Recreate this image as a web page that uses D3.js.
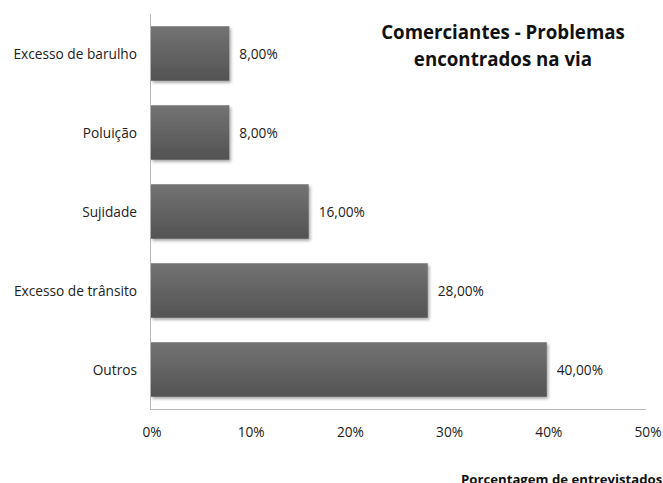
<!DOCTYPE html>
<html><head><meta charset="utf-8">
<script src="https://cdn.jsdelivr.net/npm/d3@7"></script>
<style>body{margin:0;background:#fff}svg{display:block}text{font-family:"Open Sans",Lato,sans-serif}</style>
</head><body><svg id="c" width="663" height="483"></svg>
<script>
const categories = ["Excesso de barulho","Poluição","Sujidade","Excesso de trânsito","Outros"];
const values = [8, 8, 16, 28, 40];
const valueLabels = ["8,00%","8,00%","16,00%","28,00%","40,00%"];
const xTicks = [0,10,20,30,40,50];
const titleLines = ["Comerciantes - Problemas","encontrados na via"];
const xTitle = "Porcentagem de entrevistados";

const svg = d3.select("#c");
const x = d3.scaleLinear().domain([0,50]).range([150,646]);
const y = d3.scaleBand().domain(categories).range([14,409]).paddingInner(0.31).paddingOuter(0.155);

const defs = svg.append("defs");
const g = defs.append("linearGradient").attr("id","bg").attr("x1",0).attr("x2",0).attr("y1",0).attr("y2",1);
g.append("stop").attr("offset","0%").attr("stop-color","#737373");
g.append("stop").attr("offset","100%").attr("stop-color","#535353");
const f = defs.append("filter").attr("id","sh").attr("x","-10%").attr("y","-20%").attr("width","130%").attr("height","150%");
f.append("feDropShadow").attr("dx",1.5).attr("dy",2).attr("stdDeviation",1.8).attr("flood-color","#000").attr("flood-opacity",0.35);

svg.append("line").attr("x1",150.5).attr("x2",150.5).attr("y1",14).attr("y2",409).attr("stroke","#b8b8b8");
svg.append("line").attr("x1",150).attr("x2",646).attr("y1",409.5).attr("y2",409.5).attr("stroke","#b8b8b8");

svg.selectAll("rect.bar").data(values).join("rect").attr("class","bar")
  .attr("x",x(0)+1).attr("y",(d,i)=>y(categories[i]))
  .attr("width",d=>x(d)-x(0)-1).attr("height",y.bandwidth())
  .attr("fill","url(#bg)").attr("filter","url(#sh)");

svg.selectAll("text.val").data(values).join("text").attr("class","val")
  .attr("x",d=>x(d)+10).attr("y",(d,i)=>y(categories[i])+y.bandwidth()/2+5)
  .attr("font-size",13.7).attr("fill","#222").text((d,i)=>valueLabels[i]);

svg.selectAll("text.cat").data(categories).join("text").attr("class","cat")
  .attr("x",137).attr("y",d=>y(d)+y.bandwidth()/2+5).attr("text-anchor","end")
  .attr("font-size",13.7).attr("fill","#222").text(d=>d);

svg.selectAll("text.tick").data(xTicks).join("text").attr("class","tick")
  .attr("x",d=>x(d)+2).attr("y",437).attr("text-anchor","middle")
  .attr("font-size",13.7).attr("fill","#222").text(d=>d+"%");

svg.selectAll("text.title").data(titleLines).join("text").attr("class","title")
  .attr("x",503).attr("y",(d,i)=>39+i*27).attr("text-anchor","middle")
  .attr("font-size",18.7).attr("font-weight","bold").attr("fill","#111").text(d=>d);

svg.append("text").attr("x",461).attr("y",484).attr("font-size",13.2).attr("font-weight","bold").attr("fill","#111").text(xTitle);
</script></body></html>
